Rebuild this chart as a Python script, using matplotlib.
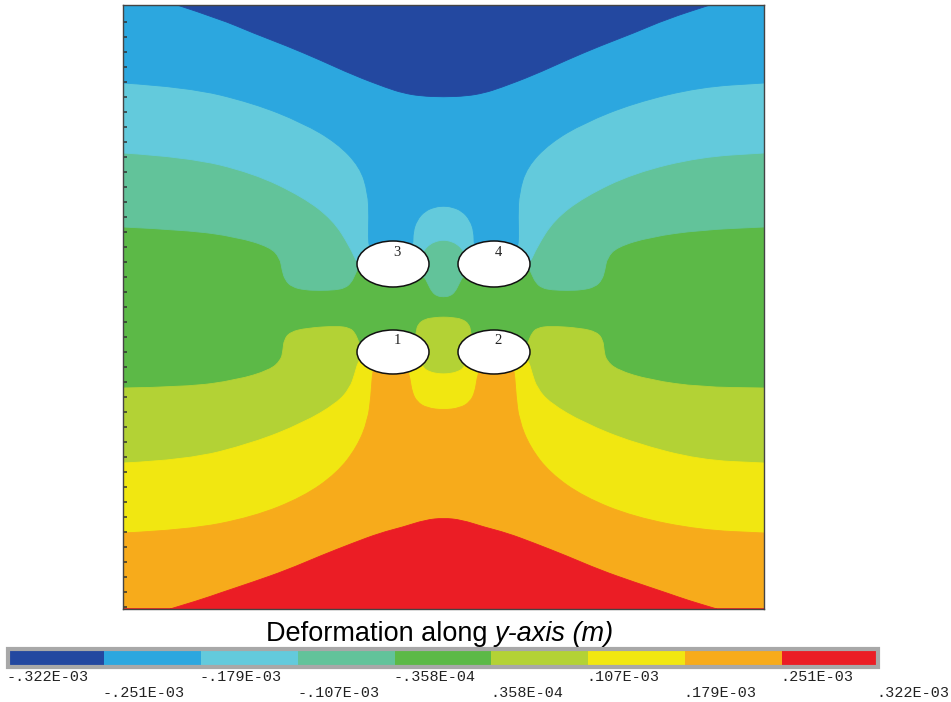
import numpy as np
import matplotlib
matplotlib.use("Agg")
import matplotlib.pyplot as plt
from matplotlib.patches import Ellipse, PathPatch
from matplotlib.path import Path
from matplotlib.colors import ListedColormap, BoundaryNorm
from matplotlib.cm import ScalarMappable

# ---------------- data (model units) ----------------
W, H = 64.1, 60.4          # model width / height

band_colors = ["#2348A0", "#2CA7DF", "#63CADC", "#62C39A", "#5CB947",
               "#B3D235", "#F1E711", "#F7AB1B", "#EB1D25"]
level_values = [-3.22e-4, -2.51e-4, -1.79e-4, -1.07e-4, -3.58e-5,
                3.58e-5, 1.07e-4, 1.79e-4, 2.51e-4, 3.22e-4]
level_labels = ["-.322E-03", "-.251E-03", "-.179E-03", "-.107E-03", "-.358E-04",
                ".358E-04", ".107E-03", ".179E-03", ".251E-03", ".322E-03"]

# contour boundaries, left half (mirrored about x = W/2)
b12_x = [5.4, 9.7, 13.0, 16.4, 19.7, 23.0, 26.4, 28.0, 29.7, 32.05]
b12_y = [60.4, 59.0, 57.6, 56.3, 54.9, 53.4, 52.1, 51.6, 51.3, 51.2]

b23_x = [0, 6.4, 13.0, 18.0, 21.4, 23.7, 24.5, 24.6, 24.5, 24.9, 28.7, 29.0, 29.0, 29.4, 30.2, 31.2, 32.05]
b23_y = [52.6, 52.2, 50.6, 48.6, 46.6, 44.2, 41.6, 39.2, 36.6, 35.7, 35.7, 36.4, 37.7, 38.9, 39.8, 40.2, 40.3]

b34_x = [0, 6.4, 13.0, 18.0, 21.0, 22.7, 23.4, 23.9, 29.5, 30.1, 30.7, 31.4, 32.05]
b34_y = [45.6, 45.2, 43.6, 41.2, 38.9, 36.2, 34.6, 34.6, 34.9, 35.9, 36.5, 36.8, 36.9]

b45_x = [0, 6.4, 11.4, 14.7, 15.7, 15.9, 16.2, 16.9, 18.2, 19.7, 21.2, 22.2, 22.8, 23.2, 23.5,
         24.2, 29.7, 30.1, 30.5, 30.9, 31.4, 32.05]
b45_y = [38.2, 37.9, 37.2, 36.2, 35.1, 33.9, 32.9, 32.2, 31.9, 31.85, 31.9, 32.1, 32.6, 33.4, 34.1,
         33.4, 33.1, 33.3, 32.5, 31.7, 31.3, 31.2]

b56_x = [0, 6.4, 11.4, 14.7, 15.8, 16.0, 16.1, 16.7, 18.4, 21.4, 22.7, 23.2, 23.5, 23.9,
         29.2, 29.3, 29.5, 30.2, 31.2, 32.05]
b56_y = [22.1, 22.2, 22.9, 23.9, 24.9, 25.9, 26.9, 27.7, 28.1, 28.3, 28.1, 27.6, 26.9, 25.9,
         26.4, 27.7, 28.5, 29.0, 29.15, 29.2]

b67_x = [0, 6.4, 13.0, 18.0, 21.4, 22.7, 23.2, 23.5, 23.9, 29.7, 30.0, 30.7, 31.4, 32.05]
b67_y = [14.6, 14.9, 16.6, 18.6, 20.6, 22.1, 23.6, 24.7, 25.1, 24.9, 24.1, 23.7, 23.55, 23.5]

b78_x = [0, 6.4, 13.0, 18.0, 21.4, 23.4, 24.5, 24.8, 24.9, 25.1, 28.4, 28.7, 28.9, 29.4, 30.4, 32.05]
b78_y = [7.6, 7.9, 9.2, 11.2, 13.6, 16.2, 18.9, 21.4, 23.1, 24.4, 24.1, 23.1, 21.7, 20.7, 20.1, 19.9]

b89_x = [4.7, 7.7, 9.7, 13.0, 16.4, 19.7, 23.0, 25.7, 28.0, 30.2, 32.05]
b89_y = [0.0, 0.9, 1.6, 2.7, 3.9, 5.3, 6.6, 7.6, 8.2, 8.9, 9.1]

# holes (tunnels)
hole_labels = ["3", "4", "1", "2"]
hole_x = [27.0, 37.1, 27.0, 37.1]
hole_y = [34.5, 34.5, 25.7, 25.7]
hole_w = [7.2, 7.2, 7.2, 7.2]
hole_h = [4.6, 4.6, 4.4, 4.4]

# ---------------- figure ----------------
FW, FH = 951, 702
fig = plt.figure(figsize=(FW / 100, FH / 100), dpi=100)
ax = fig.add_axes([123 / FW, (FH - 609) / FH, 641 / FW, 604 / FH])
ax.set_xlim(0, W)
ax.set_ylim(0, H)


def mirrored(xs, ys):
    left = list(zip(xs, ys))
    right = [(W - x, y) for x, y in reversed(left[:-1])]
    return left + right


def smooth_path(pts, closing):
    # quadratic B-spline style path through the boundary points
    verts = [pts[0]]
    codes = [Path.MOVETO]
    for i in range(1, len(pts) - 1):
        mx = (pts[i][0] + pts[i + 1][0]) / 2
        my = (pts[i][1] + pts[i + 1][1]) / 2
        verts += [pts[i], (mx, my)]
        codes += [Path.CURVE3, Path.CURVE3]
    verts.append(pts[-1])
    codes.append(Path.LINETO)
    for c in closing:
        verts.append(c)
        codes.append(Path.LINETO)
    verts.append(pts[0])
    codes.append(Path.CLOSEPOLY)
    return Path(verts, codes)


def fill_region(xs, ys, color, upper):
    pts = mirrored(xs, ys)
    closing = [(W, H), (0, H)] if upper else [(W, 0), (0, 0)]
    ax.add_patch(PathPatch(smooth_path(pts, closing), facecolor=color,
                           edgecolor=color, lw=0.6, zorder=1))


# middle band as background
ax.fill([0, W, W, 0], [0, 0, H, H], facecolor=band_colors[4], edgecolor="none", zorder=0)
# upper bands
fill_region(b45_x, b45_y, band_colors[3], True)
fill_region(b34_x, b34_y, band_colors[2], True)
fill_region(b23_x, b23_y, band_colors[1], True)
fill_region(b12_x, b12_y, band_colors[0], True)
# lower bands
fill_region(b56_x, b56_y, band_colors[5], False)
fill_region(b67_x, b67_y, band_colors[6], False)
fill_region(b78_x, b78_y, band_colors[7], False)
fill_region(b89_x, b89_y, band_colors[8], False)

for lab, cx, cy, w, h in zip(hole_labels, hole_x, hole_y, hole_w, hole_h):
    ax.add_patch(Ellipse((cx, cy), w, h, facecolor="white", edgecolor="#111111",
                         lw=1.1, zorder=5))
    ax.text(cx + 0.4, cy + 1.1, lab, fontsize=10.5, family="Liberation Serif",
            ha="center", va="center", color="#222222", zorder=6)

ax.set_xticks([])
ax.set_yticks(np.arange(58.7, 0, -1.5))
ax.tick_params(axis="y", direction="in", length=3, width=1.1, color="#333333",
               labelleft=False)
for s in ax.spines.values():
    s.set_color("#444444")
    s.set_linewidth(1.0)

# ---------------- colour legend ----------------
cax = fig.add_axes([8 / FW, (FH - 667) / FH, 870 / FW, 18 / FH])
cmap = ListedColormap(band_colors)
norm = BoundaryNorm(level_values, cmap.N)
cb = fig.colorbar(ScalarMappable(norm=norm, cmap=cmap), cax=cax,
                  orientation="horizontal", spacing="proportional")
cb.set_ticks([])
cax.xaxis.set_ticks([], minor=True)
cax.tick_params(which="both", length=0)
cb.outline.set_edgecolor("#a8a8a8")
cb.outline.set_linewidth(3)

for i, (v, lab) in enumerate(zip(level_values, level_labels)):
    off = -7.5 if i % 2 == 0 else -18.5
    cax.annotate(lab, xy=(v, 0), xycoords=("data", "axes fraction"),
                 xytext=(-1, off), textcoords="offset points",
                 ha="left", va="center", fontsize=10.9,
                 family="Liberation Mono", color="#222222")

# title made of a regular and an italic part
fs = 19.5
yb = (FH - 641) / FH
r = fig.canvas.get_renderer()
t1 = fig.text(0, yb, "Deformation along ", fontsize=fs, family="Liberation Sans",
              va="baseline", ha="left")
t2 = fig.text(0, yb, "y-axis (m)", fontsize=fs, family="Liberation Sans",
              style="italic", va="baseline", ha="left")
w1 = t1.get_window_extent(r).width
w2 = t2.get_window_extent(r).width
x0 = 440 - (w1 + w2) / 2
t1.set_x(x0 / FW)
t2.set_x((x0 + w1) / FW)

fig.savefig("out.png", dpi=100)
